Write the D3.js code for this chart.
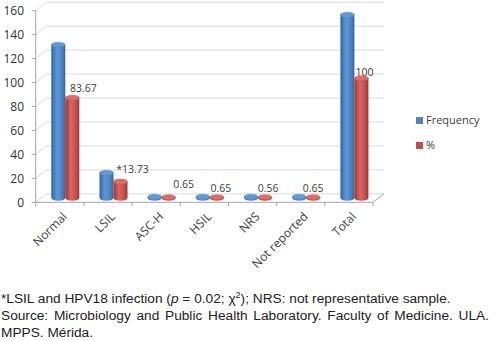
<!DOCTYPE html>
<html>
<head>
<meta charset="utf-8">
<script src="https://cdn.jsdelivr.net/npm/d3@7"></script>
<style>
  body { margin: 0; background: #fff; }
  svg { display: block; }
</style>
</head>
<body>
<div id="chart"></div>
<script>
// data
var categories = ["Normal", "LSIL", "ASC-H", "HSIL", "NRS", "Not reported", "Total"];
var frequency = [128, 21, 1, 1, 1, 1, 153];
var percent = [83.67, 13.73, 0.65, 0.65, 0.65, 0.65, 100];
var percentLabels = ["83.67", "*13.73", "0.65", "0.65", "0.56", "0.65", "100"];
var yTicks = [0, 20, 40, 60, 80, 100, 120, 140, 160];
var seriesNames = ["Frequency", "%"];

// label nudges (Excel puts 3D labels a bit off)
var labelNudgeX = [11, 12, 15, 4, 3, 0, 3];
var labelNudgeY = [-10, -12, -13, -9, -9, -9, -6];

var width = 491, height = 341;
var depthX = 11, depthY = -8.5;   // 3d offset of the back wall
var barW = 14, ry = 2.6;
var textCol = "#404040";

var svg = d3.select("#chart").append("svg")
  .attr("width", width)
  .attr("height", height);

var x = d3.scaleBand().domain(categories).range([35.7, 373]).padding(0);
var y = d3.scaleLinear().domain([0, 160]).range([202.3, 10.7]);

// gradients for the cylinders
var defs = svg.append("defs");
function cylGrad(id, dark, mid, light) {
  var g = defs.append("linearGradient").attr("id", id)
    .attr("x1", "0%").attr("x2", "100%").attr("y1", "0%").attr("y2", "0%");
  g.append("stop").attr("offset", "0%").attr("stop-color", dark);
  g.append("stop").attr("offset", "40%").attr("stop-color", light);
  g.append("stop").attr("offset", "75%").attr("stop-color", mid);
  g.append("stop").attr("offset", "100%").attr("stop-color", dark);
}
cylGrad("gBlue", "#32649e", "#4d84c4", "#5f97d8");
cylGrad("gRed", "#963633", "#c4514e", "#d96662");
var colors = [{grad: "url(#gBlue)", top: "#639ad6", legend: "#4f81bd"},
              {grad: "url(#gRed)", top: "#dc6d69", legend: "#c0504d"}];

var x0 = x.range()[0], x1 = x.range()[1];

// left wall diagonals + back wall gridlines
var grid = svg.append("g");
grid.selectAll("path.grid")
  .data(yTicks)
  .enter().append("path")
  .attr("d", function(d) {
    return "M" + x0 + "," + y(d) + "L" + (x0 + depthX) + "," + (y(d) + depthY) +
      "L" + (x1 + depthX) + "," + (y(d) + depthY);
  })
  .attr("fill", "none")
  .attr("stroke", "#d9d9d9")
  .attr("stroke-width", 1);

// floor
svg.append("path")
  .attr("d", "M" + x0 + "," + y(0) + "L" + x1 + "," + y(0) + "L" + (x1 + depthX) + "," + (y(0) + depthY))
  .attr("fill", "none")
  .attr("stroke", "#a6a6a6")
  .attr("stroke-width", 1);

// y axis
var yAxis = svg.append("g");
yAxis.append("line")
  .attr("x1", x0).attr("x2", x0)
  .attr("y1", y(0)).attr("y2", y(160))
  .attr("stroke", "#a6a6a6");
yAxis.selectAll("line.tick")
  .data(yTicks)
  .enter().append("line")
  .attr("x1", x0 - 4).attr("x2", x0)
  .attr("y1", function(d){ return y(d); })
  .attr("y2", function(d){ return y(d); })
  .attr("stroke", "#a6a6a6");
yAxis.selectAll("text")
  .data(yTicks)
  .enter().append("text")
  .attr("x", 24)
  .attr("y", function(d){ return y(d); })
  .attr("dy", "0.36em")
  .attr("text-anchor", "end")
  .style("font", "12px 'Open Sans'")
  .style("fill", "#333")
  .text(function(d){ return d; });

// x ticks + labels
var xAxis = svg.append("g");
xAxis.selectAll("line")
  .data(categories.concat(["_end"]))
  .enter().append("line")
  .attr("x1", function(d, i){ return x0 + i * x.bandwidth(); })
  .attr("x2", function(d, i){ return x0 + i * x.bandwidth(); })
  .attr("y1", y(0)).attr("y2", y(0) + 4)
  .attr("stroke", "#a6a6a6");
xAxis.selectAll("text")
  .data(categories)
  .enter().append("text")
  .attr("transform", function(d){
    return "translate(" + (x(d) + x.bandwidth() / 2 + 5) + "," + (y(0) + 12) + ") rotate(-45)";
  })
  .attr("text-anchor", "end")
  .attr("dy", "0.35em")
  .style("font", "12px 'Open Sans'")
  .style("fill", textCol)
  .text(function(d){ return d; });

// cylinders
var series = [frequency, percent];
var bars = svg.append("g");
series.forEach(function(vals, s) {
  var g = bars.append("g");
  var cx = function(i){ return x(categories[i]) + x.bandwidth() / 2 + depthX / 2 + (s === 0 ? -barW / 2 : barW / 2); };
  var base = y(0) + depthY / 2;
  var topY = function(v){ return y(v) + depthY / 2; };
  var cyl = g.selectAll("g")
    .data(vals)
    .enter().append("g");
  cyl.append("path")
    .attr("d", function(v, i){
      var c = cx(i), l = c - barW / 2, r = c + barW / 2, t = topY(v);
      return "M" + l + "," + t + "L" + l + "," + base +
        "A" + (barW / 2) + "," + ry + " 0 0 0 " + r + "," + base +
        "L" + r + "," + t + "Z";
    })
    .attr("fill", colors[s].grad);
  cyl.append("ellipse")
    .attr("cx", function(v, i){ return cx(i); })
    .attr("cy", function(v){ return topY(v); })
    .attr("rx", barW / 2).attr("ry", ry)
    .attr("fill", colors[s].top)
    .attr("stroke", colors[s].legend)
    .attr("stroke-width", 0.5);
});

// data labels for %
svg.append("g").selectAll("text")
  .data(percent)
  .enter().append("text")
  .attr("x", function(v, i){ return x(categories[i]) + x.bandwidth() / 2 + depthX / 2 + barW / 2 + labelNudgeX[i]; })
  .attr("y", function(v, i){ return y(v) + depthY / 2 + labelNudgeY[i]; })
  .attr("dy", "0.35em")
  .attr("text-anchor", "middle")
  .style("font", "10.5px 'Open Sans'")
  .style("fill", textCol)
  .text(function(v, i){ return percentLabels[i]; });

// legend
var legend = svg.append("g").selectAll("g")
  .data(seriesNames)
  .enter().append("g")
  .attr("transform", function(d, i){ return "translate(416," + (117 + i * 25) + ")"; });
legend.append("rect")
  .attr("width", 7).attr("height", 7)
  .attr("fill", function(d, i){ return colors[i].legend; });
legend.append("text")
  .attr("x", 10).attr("y", 3.5).attr("dy", "0.36em")
  .style("font", "11px 'Open Sans'")
  .style("fill", textCol)
  .text(function(d){ return d; });

// footnote
var note = svg.append("g")
  .style("font", "13.7px 'Liberation Sans', Arial, sans-serif")
  .style("fill", "#222");
var l1 = note.append("text").attr("x", 1).attr("y", 303);
l1.append("tspan").text("*LSIL and HPV18 infection (");
l1.append("tspan").style("font-style", "italic").text("p");
l1.append("tspan").text(" = 0.02; \u03c7");
l1.append("tspan").attr("dy", -5).style("font-size", "9px").text("2");
l1.append("tspan").attr("dy", 5).text("); NRS: not representative sample.");

var l2 = note.append("text").attr("x", 1).attr("y", 320)
  .text("Source: Microbiology and Public Health Laboratory. Faculty of Medicine. ULA.");
// justify line 2 to the right edge
var nat = l2.node().getComputedTextLength();
var spaces = l2.text().split(" ").length - 1;
l2.style("word-spacing", Math.max(0, (489 - 1 - nat) / spaces) + "px");

note.append("text").attr("x", 1).attr("y", 337).text("MPPS. M\u00e9rida.");
</script>
</body>
</html>
